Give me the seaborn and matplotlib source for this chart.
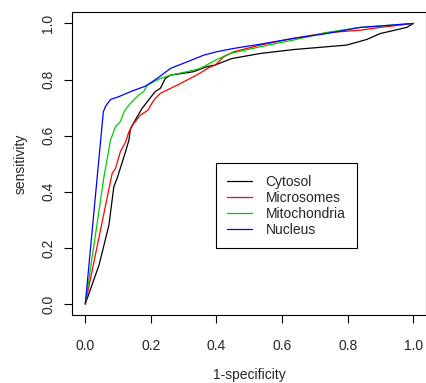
import numpy as np
import pandas as pd
import matplotlib
matplotlib.use("Agg")
import matplotlib.pyplot as plt
import seaborn as sns

# ROC points
cyto_x = [0.0, 0.006, 0.042, 0.072, 0.087, 0.097, 0.118, 0.133, 0.138, 0.158, 0.173, 0.193,
          0.213, 0.229, 0.244, 0.26, 0.33, 0.371, 0.396, 0.447, 0.533, 0.635, 0.797, 0.858,
          0.899, 0.98, 1.0]
cyto_y = [0.0, 0.02, 0.139, 0.281, 0.418, 0.448, 0.525, 0.584, 0.626, 0.667, 0.697, 0.727,
          0.757, 0.769, 0.804, 0.816, 0.828, 0.846, 0.852, 0.875, 0.893, 0.907, 0.923, 0.943,
          0.964, 0.986, 1.0]

micro_x = [0.0, 0.082, 0.092, 0.107, 0.123, 0.133, 0.148, 0.168, 0.191, 0.209, 0.229, 0.28,
           0.33, 0.351, 0.376, 0.396, 0.422, 0.452, 0.533, 0.635, 0.736, 0.838, 0.899, 1.0]
micro_y = [0.0, 0.466, 0.483, 0.543, 0.578, 0.614, 0.644, 0.673, 0.691, 0.727, 0.751, 0.78,
           0.81, 0.824, 0.842, 0.852, 0.881, 0.899, 0.923, 0.947, 0.967, 0.976, 0.986, 1.0]

mito_x = [0.0, 0.057, 0.077, 0.092, 0.107, 0.118, 0.133, 0.148, 0.163, 0.178, 0.189, 0.229,
          0.26, 0.31, 0.351, 0.402, 0.442, 0.533, 0.635, 0.736, 0.838, 1.0]
mito_y = [0.0, 0.454, 0.584, 0.632, 0.65, 0.685, 0.709, 0.727, 0.745, 0.757, 0.78, 0.804,
          0.816, 0.828, 0.84, 0.872, 0.893, 0.917, 0.941, 0.968, 0.986, 1.0]

nuc_x = [0.0, 0.055, 0.062, 0.077, 0.102, 0.138, 0.184, 0.219, 0.26, 0.31, 0.361, 0.40,
         0.452, 0.533, 0.635, 0.736, 0.838, 0.888, 1.0]
nuc_y = [0.0, 0.685, 0.705, 0.729, 0.739, 0.757, 0.777, 0.804, 0.84, 0.863, 0.887, 0.899,
         0.911, 0.926, 0.947, 0.964, 0.986, 0.99, 1.0]

labels = ['Cytosol', 'Microsomes', 'Mitochondria', 'Nucleus']
colors = ['#000000', '#FF0000', '#00CD00', '#0000FF']

frames = []
for name, xs, ys in zip(labels, [cyto_x, micro_x, mito_x, nuc_x],
                        [cyto_y, micro_y, mito_y, nuc_y]):
    frames.append(pd.DataFrame({'fpr': xs, 'tpr': ys, 'compartment': name}))
roc = pd.concat(frames, ignore_index=True)

sns.set_style("ticks")
plt.rcParams['font.family'] = ['Liberation Sans', 'DejaVu Sans']
plt.rcParams['font.size'] = 10

fig = plt.figure(figsize=(4.27, 3.83), dpi=100)
ax = fig.add_axes([0.169, 0.177, 0.8296, 0.791])

sns.lineplot(data=roc, x='fpr', y='tpr', hue='compartment', palette=colors,
             estimator=None, sort=False, linewidth=0.9, ax=ax)

ax.set_xlim(-0.04, 1.04)
ax.set_ylim(-0.04, 1.04)
ax.set_xticks([0, 0.2, 0.4, 0.6, 0.8, 1.0])
ax.set_yticks([0, 0.2, 0.4, 0.6, 0.8, 1.0])
ax.set_xticklabels(['0.0', '0.2', '0.4', '0.6', '0.8', '1.0'])
ax.set_yticklabels(['0.0', '0.2', '0.4', '0.6', '0.8', '1.0'], rotation=90, va='center')
ax.tick_params(direction='out', length=6, width=0.8, color='black', labelsize=10,
               bottom=True, left=True)
ax.tick_params(axis='x', pad=11)
ax.tick_params(axis='y', pad=6)
for sp in ax.spines.values():
    sp.set_visible(True)
    sp.set_color('black')
    sp.set_linewidth(0.8)

ax.set_xlabel('1-specificity', fontsize=10, labelpad=11)
ax.set_ylabel('sensitivity', fontsize=10, labelpad=10)

leg = ax.legend(loc='upper left', bbox_to_anchor=(0.407, 0.501), borderaxespad=0,
                fancybox=False, edgecolor='black', framealpha=1, fontsize=10,
                handlelength=1.8, labelspacing=0.16, borderpad=0.8, handletextpad=0.95)
leg.get_frame().set_linewidth(0.8)

fig.savefig('out.png', dpi=100)
